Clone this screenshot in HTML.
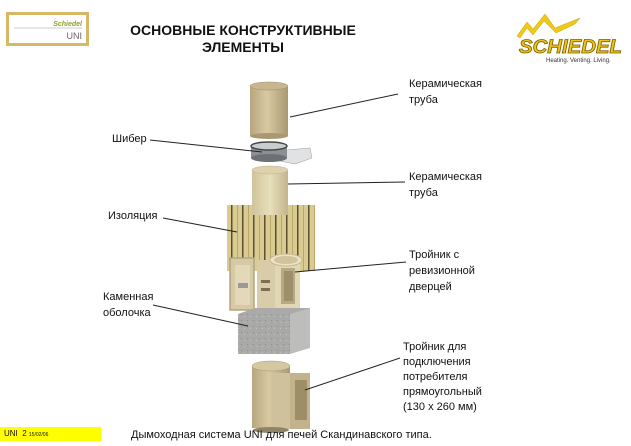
<!DOCTYPE html>
<html><head><meta charset="utf-8"><style>
html,body{margin:0;padding:0;background:#fff;}
body{width:631px;height:446px;overflow:hidden;position:relative;font-family:"Liberation Sans",Arial,sans-serif;}
.t{position:absolute;font-size:11px;line-height:16px;color:#111;}
</style></head><body>
<svg width="631" height="446" style="position:absolute;left:0;top:0">
<defs>
<linearGradient id="cer" x1="0" x2="1"><stop offset="0" stop-color="#b7a67f"/><stop offset="0.45" stop-color="#d8c9a3"/><stop offset="1" stop-color="#a99871"/></linearGradient>
<linearGradient id="cer2" x1="0" x2="1"><stop offset="0" stop-color="#cfc39a"/><stop offset="0.5" stop-color="#e8dfbb"/><stop offset="1" stop-color="#c3b58c"/></linearGradient>
<pattern id="ins" width="11" height="10" patternUnits="userSpaceOnUse"><rect width="11" height="10" fill="#d9cb92"/><rect x="0" width="1.5" height="10" fill="#5c5030"/><rect x="6" width="1" height="10" fill="#b9a86c"/></pattern>
<pattern id="stone" width="6" height="6" patternUnits="userSpaceOnUse"><rect width="6" height="6" fill="#a9a9a7"/><rect x="1" y="2" width="1" height="1" fill="#8d8d8b"/><rect x="4" y="4" width="1" height="1" fill="#c4c4c2"/></pattern>
</defs>
<!-- UNI logo -->
<rect x="7.5" y="13.5" width="80" height="31" fill="#fff" stroke="#d8b866" stroke-width="3"/>
<line x1="14" y1="28" x2="82" y2="28" stroke="#bbb" stroke-width="0.7"/>
<text x="82" y="26" font-size="7" font-style="italic" font-weight="bold" fill="#8aa02a" text-anchor="end" font-family="Liberation Sans">Schiedel</text>
<text x="82" y="39" font-size="9" fill="#666" text-anchor="end" font-family="Liberation Sans">UNI</text>
<!-- Schiedel logo -->
<path d="M517 36 L527 22 L533 29 L545 14 L555 28 L580 18 L575 24 L556 33 L544 21 L533 35 L527 28 L520 38 Z" fill="#f0c81a" stroke="#c9a000" stroke-width="0.5"/>
<text x="519" y="53" font-size="19" font-weight="bold" font-style="italic" fill="#f2c414" stroke="#7a5e00" stroke-width="0.8" font-family="Liberation Sans" textLength="103" lengthAdjust="spacingAndGlyphs">SCHIEDEL</text>
<text x="546" y="62" font-size="6" fill="#333" font-family="Liberation Sans">Heating. Venting. Living.</text>
<!-- top pipe -->
<rect x="250" y="86" width="38" height="50" fill="url(#cer)"/>
<ellipse cx="269" cy="136" rx="19" ry="3" fill="#a99871"/>
<ellipse cx="269" cy="86" rx="19" ry="4" fill="#c7b68f" stroke="#9f8f68" stroke-width="0.5"/>
<!-- shiber -->
<polygon points="275,151 310,148 312,158 295,164 275,160" fill="#e0e2e4" stroke="#999" stroke-width="0.5"/>
<rect x="251" y="146" width="36" height="12" fill="#8c9094"/>
<ellipse cx="269" cy="158" rx="18" ry="4" fill="#6d7175"/>
<ellipse cx="269" cy="146" rx="18" ry="4" fill="#c9cdd0" stroke="#444" stroke-width="1.5"/>
<!-- insulation -->
<rect x="227" y="205" width="88" height="66" fill="url(#ins)"/>
<!-- second pipe -->
<rect x="252" y="170" width="36" height="45" fill="url(#cer2)"/>
<ellipse cx="270" cy="170" rx="18" ry="4" fill="#ddd2ad" stroke="#c0b28a" stroke-width="0.5"/>
<!-- door panel -->
<rect x="230" y="258" width="24" height="52" fill="#d6c9a5" stroke="#b4a581" stroke-width="1.5"/>
<rect x="235" y="265" width="15" height="40" fill="#e3d8b9"/>
<rect x="238" y="283" width="10" height="5" fill="#999"/>
<!-- tee -->
<rect x="257" y="260" width="43" height="50" fill="#e2d7b5"/>
<rect x="257" y="260" width="18" height="50" fill="#d9cca8"/>
<ellipse cx="286" cy="260" rx="16" ry="6" fill="#ece3c6" stroke="#c7ba92" stroke-width="1"/>
<ellipse cx="286" cy="260" rx="12" ry="4" fill="#d1c39b"/>
<rect x="281" y="268" width="14" height="36" fill="#b8a985"/>
<rect x="284" y="271" width="9" height="30" fill="#9e8f6b"/>
<rect x="261" y="280" width="9" height="3" fill="#7a6e55"/>
<rect x="261" y="288" width="9" height="3" fill="#7a6e55"/>
<!-- stone block -->
<polygon points="238,314 255,308 310,308 310,314" fill="#aaa"/>
<rect x="238" y="314" width="52" height="40" fill="url(#stone)"/>
<polygon points="290,314 310,308 310,348 290,354" fill="#bdbdbb"/>
<!-- bottom tee -->
<rect x="252" y="366" width="38" height="62" fill="url(#cer)"/>
<ellipse cx="271" cy="366" rx="19" ry="5" fill="#d4c7a2" stroke="#a99871" stroke-width="0.5"/>
<rect x="272" y="373" width="38" height="56" fill="#cfc19b"/>
<rect x="290" y="373" width="20" height="56" fill="#c2b38c"/>
<rect x="295" y="380" width="12" height="40" fill="#9e8e68"/>
<ellipse cx="271" cy="430" rx="18" ry="3" fill="#8f8466"/>
<!-- leader lines -->
<g stroke="#222" stroke-width="1" fill="none">
<line x1="290" y1="117" x2="398" y2="94"/>
<line x1="150" y1="140" x2="262" y2="152"/>
<line x1="288" y1="184" x2="405" y2="182"/>
<line x1="163" y1="218" x2="237" y2="232"/>
<line x1="295" y1="272" x2="406" y2="262"/>
<line x1="153" y1="305" x2="248" y2="326"/>
<line x1="305" y1="390" x2="400" y2="358"/>
</g>
<rect x="0" y="427" width="101" height="14" fill="#ffff00"/>
</svg>
<div class="t" style="left:118px;top:22px;width:250px;text-align:center;font-size:14px;line-height:17px;font-weight:bold;">ОСНОВНЫЕ КОНСТРУКТИВНЫЕ<br>ЭЛЕМЕНТЫ</div>
<div class="t" style="left:409px;top:76px">Керамическая<br>труба</div>
<div class="t" style="left:112px;top:131px">Шибер</div>
<div class="t" style="left:409px;top:169px">Керамическая<br>труба</div>
<div class="t" style="left:108px;top:208px">Изоляция</div>
<div class="t" style="left:409px;top:247px">Тройник с<br>ревизионной<br>дверцей</div>
<div class="t" style="left:103px;top:289px">Каменная<br>оболочка</div>
<div class="t" style="left:403px;top:340px;line-height:15px">Тройник для<br>подключения<br>потребителя<br>прямоугольный<br>(130 x 260 мм)</div>
<div class="t" style="left:4px;top:428px;font-size:8px;line-height:12px">UNI&nbsp; 2 <span style="font-size:5px">15/02/06</span></div>
<div class="t" style="left:131px;top:427px;font-size:11px">Дымоходная система UNI для печей Скандинавского типа.</div>
</body></html>
